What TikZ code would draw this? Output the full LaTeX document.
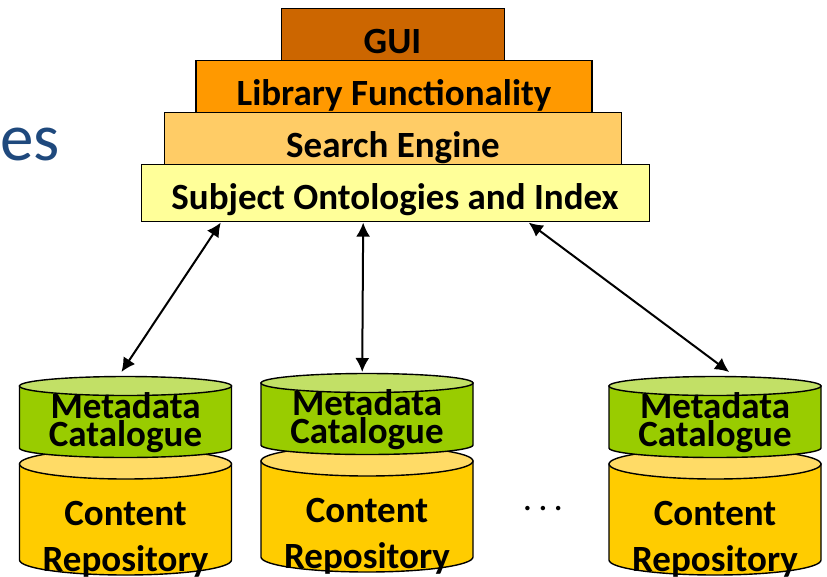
\documentclass[tikz,border=0pt]{standalone}
\usepackage{fontspec}
\setmainfont{Carlito}
\usetikzlibrary{arrows.meta,calc}
\definecolor{guic}{HTML}{CC6600}
\definecolor{libc}{HTML}{FF9900}
\definecolor{seac}{HTML}{FFCC66}
\definecolor{subc}{HTML}{FFFF99}
\definecolor{grn}{HTML}{99CC00}
\definecolor{grnt}{HTML}{C2E066}
\definecolor{yel}{HTML}{FFCC00}
\definecolor{yelt}{HTML}{FFDB66}
\definecolor{titleblue}{HTML}{1F497D}
\tikzset{
  x=1pt,y=-1pt,
  layer/.style={draw=black,line width=1.6pt,inner sep=0pt,anchor=north west},
  txt/.style={font=\fontsize{37}{37}\selectfont\bfseries,inner sep=0pt,anchor=base},
  cyltxt/.style={font=\fontsize{37}{37}\selectfont\bfseries,inner sep=0pt,anchor=base},
  conn/.style={line width=2pt,{Latex[length=14pt,width=14pt]}-{Latex[length=14pt,width=14pt]}},
  cylline/.style={draw=black,line width=1.4pt},
}
% #1 name prefix, #2 left x, #3 y offset
\newcommand{\dbstack}[3]{%
  \begin{scope}[shift={(#2,#3)}]
    \path[fill=yel,cylline] (0,464) -- (212,464) -- (212,560)
      arc[start angle=0,end angle=180,x radius=106,y radius=15] -- cycle;
    \path[fill=yelt,cylline] (106,464) ellipse[x radius=106,y radius=15];
    \path[fill=grn,cylline] (0,386) -- (212,386) -- (212,448) arc[start angle=0,end angle=180,x radius=106,y radius=9.5] -- cycle;
    \path[fill=grnt,cylline] (106,386) ellipse[x radius=106,y radius=9.5];
    \node[inner sep=0pt,minimum width=212pt,minimum height=82pt,anchor=north west] (#1) at (0,376) {};
    \node[cyltxt] (#1a) at (106,418) {Metadata};
    \node[cyltxt] (#1b) at (106,446.5) {Catalogue};
    \node[cyltxt] (#1c) at (106,525.5) {Content};
    \node[cyltxt] (#1d) at (106,571) {Repository};
  \end{scope}}
\begin{document}
\begin{tikzpicture}
\useasboundingbox (0,0) rectangle (827,576);
\clip (0,0) rectangle (827,576);
\fill[white] (0,0) rectangle (827,576);
\node[font=\fontsize{67}{67}\selectfont,text=titleblue,inner sep=0pt,anchor=base west] (es) at (0,160) {es};
\dbstack{a}{19.5}{0}
\dbstack{b}{261}{-3}
\dbstack{c}{609}{0}
\node[layer,fill=guic,minimum width=223pt,minimum height=52pt] (gui) at (280.5,7.5) {};
\node[layer,fill=libc,minimum width=396pt,minimum height=52pt] (lib) at (195,59.5) {};
\node[layer,fill=seac,minimum width=457pt,minimum height=52pt] (sea) at (163.5,111.5) {};
\node[layer,fill=subc,minimum width=508pt,minimum height=57pt] (sub) at (140.5,163.5) {};
\node[txt] (guit) at (392.5,53) {GUI};
\node[txt] (libt) at (394,105) {Library Functionality};
\node[txt] (seat) at (393,157) {Search Engine};
\node[txt] (subt) at (395,209) {Subject Ontologies and Index};
\node[font=\fontsize{37}{37}\selectfont,inner sep=0pt,anchor=base] (dots) at (543,510) {.\hspace{6pt}.\hspace{6pt}.};
\draw[conn] ($(sub.south west)!0.1575!(sub.south east)+(0,0.5)$) -- ($(a.north west)!0.48!(a.north east)+(0,-4)$);
\draw[conn] ($(sub.south west)!0.437!(sub.south east)+(0,0.5)$) -- ($(b.north west)!0.4765!(b.north east)+(0,-1)$);
\draw[conn] ($(sub.south west)!0.7618!(sub.south east)+(0,0.5)$) -- ($(c.north west)!0.5656!(c.north east)+(0,-4)$);
\end{tikzpicture}
\end{document}
